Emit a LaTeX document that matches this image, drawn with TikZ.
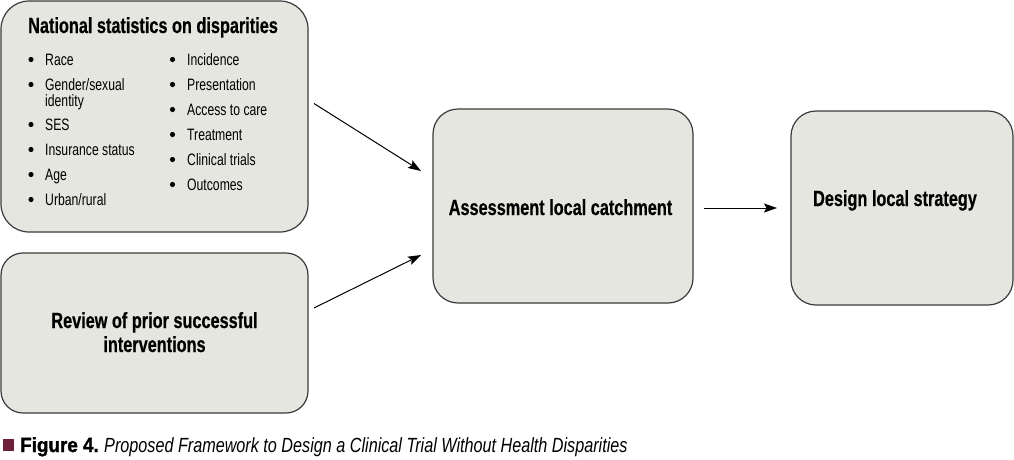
\documentclass[tikz,border=0pt]{standalone}
\usepackage{fontspec}
\setmainfont{Liberation Sans}
\newfontfamily\cond[FakeStretch=0.74]{Liberation Sans}
\newfontfamily\condb[FakeStretch=0.74, FakeBold=0.5]{Liberation Sans Bold}
\newfontfamily\condi[FakeStretch=0.79]{Liberation Sans Italic}
\newfontfamily\capbold[FakeStretch=0.92, FakeBold=1.5]{Liberation Sans Bold}
\usetikzlibrary{arrows.meta}
\definecolor{boxfill}{HTML}{E6E6E1}
\definecolor{boxline}{HTML}{3A3A3A}
\definecolor{figmaroon}{HTML}{6E1F3C}
\tikzset{
  box/.style={draw=boxline, fill=boxfill, line width=1.2pt, inner sep=0pt, outer sep=0pt},
  boldtxt/.style={font=\condb\fontsize{22}{24}\selectfont, inner sep=0pt, anchor=base},
  itemtxt/.style={font=\cond\fontsize{16.5}{18}\selectfont, inner sep=0pt, anchor=base west},
  bul/.style={circle, fill=black, inner sep=0pt, minimum size=5.2pt},
  arr/.style={draw=black, line width=1pt, -{Stealth[length=13pt,width=9pt,inset=2.5pt]}},
}
\begin{document}
\begin{tikzpicture}[x=1pt,y=-1pt]
\useasboundingbox (0,0) rectangle (1014,459);

% boxes
\node[box, rounded corners=28pt, minimum width=307pt, minimum height=231pt] (stats) at (154.5,116.5) {};
\node[box, rounded corners=22pt, minimum width=307pt, minimum height=160pt] (review) at (154.5,333) {};
\node[box, rounded corners=25pt, minimum width=260pt, minimum height=194pt] (assess) at (563,206) {};
\node[box, rounded corners=25pt, minimum width=222pt, minimum height=194pt] (design) at (902,208) {};

% box 1 content
\node[boldtxt, anchor=base west] (title) at (28,33) {National statistics on disparities};
\foreach \y [count=\i] in {65,90,130,155,180,205}{
  \node[bul] (bl\i) at (31,\y-5.5) {};
}
\node[itemtxt] (l1) at (45,65) {Race};
\node[itemtxt] (l2) at (45,90) {Gender/sexual};
\node[itemtxt] (l2b) at (45,106) {identity};
\node[itemtxt] (l3) at (45,130) {SES};
\node[itemtxt] (l4) at (45,155) {Insurance status};
\node[itemtxt] (l5) at (45,180) {Age};
\node[itemtxt] (l6) at (45,205) {Urban/rural};
\foreach \y [count=\i] in {65,90,115,140,165,190}{
  \node[bul] (br\i) at (172.5,\y-5.5) {};
}
\node[itemtxt] (r1) at (187,65) {Incidence};
\node[itemtxt] (r2) at (187,90) {Presentation};
\node[itemtxt] (r3) at (187,115) {Access to care};
\node[itemtxt] (r4) at (187,140) {Treatment};
\node[itemtxt] (r5) at (187,165) {Clinical trials};
\node[itemtxt] (r6) at (187,190) {Outcomes};

% other box texts
\node[boldtxt] (rev1) at (154.5,328) {Review of prior successful};
\node[boldtxt] (rev2) at (154.5,352) {interventions};
\node[boldtxt] (asst) at (560.5,215) {Assessment local catchment};
\node[boldtxt] (dest) at (895,206) {Design local strategy};

% arrows
\draw[arr] ([xshift=6pt,yshift=13pt]stats.east) -- ([xshift=-12pt,yshift=35pt]assess.west);
\draw[arr] ([xshift=6pt,yshift=25pt]review.east) -- ([xshift=-12pt,yshift=-49pt]assess.west);
\draw[arr] ([xshift=11pt,yshift=-2pt]assess.east) -- ([xshift=-14pt]design.west);

% caption
\fill[figmaroon] (3,439) rectangle (14,451);
\node[inner sep=0pt, anchor=base west, font=\capbold\fontsize{20.5}{24}\selectfont] (figlab) at (20,452) {Figure 4.};
\node[inner sep=0pt, anchor=base west, font=\condi\fontsize{20.5}{24}\selectfont] (figcap) at (104,452) {Proposed Framework to Design a Clinical Trial Without Health Disparities};
\end{tikzpicture}
\end{document}
